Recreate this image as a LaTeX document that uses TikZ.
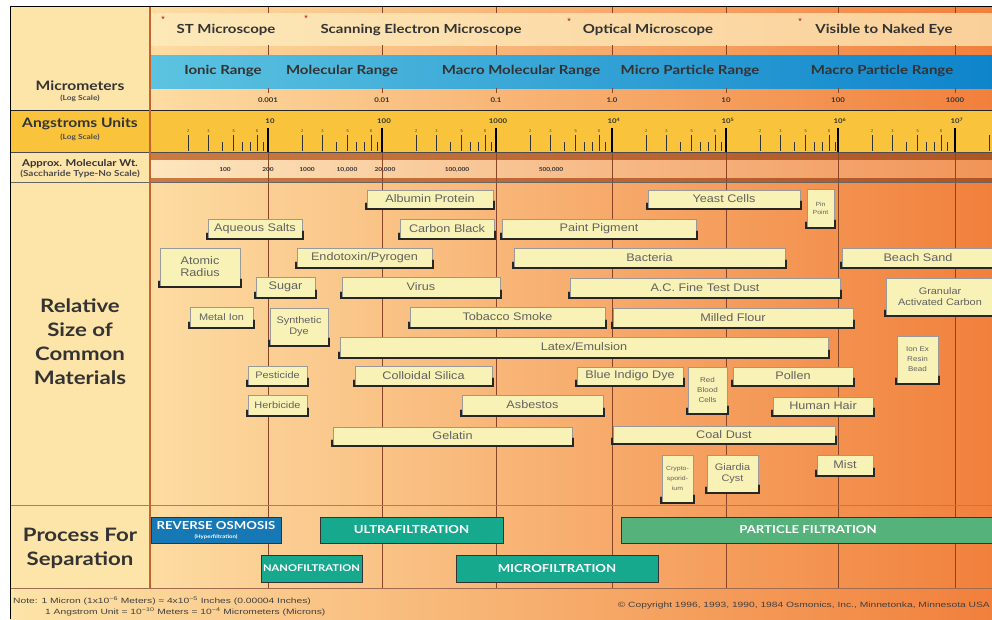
\documentclass[tikz,border=0pt]{standalone}
\usepackage{fontspec}
\setmainfont{Liberation Sans}
\newfontfamily\headfont[FakeStretch=1.2]{Lato}
\newfontfamily\boxfont[FakeStretch=1.15]{Liberation Sans}
\newfontfamily\notefont[FakeStretch=1.35]{Liberation Sans}

\definecolor{colcream}{HTML}{FDE4A8}
\definecolor{colleft}{HTML}{FDDCA2}
\definecolor{colright}{HTML}{F1803C}
\definecolor{colrowA}{HTML}{FDE8B8}
\definecolor{colrowB}{HTML}{FAD09A}
\definecolor{colgold}{HTML}{F9C43C}
\definecolor{colblueA}{HTML}{5CC3E0}
\definecolor{colblueB}{HTML}{0E84CB}
\definecolor{colbrownA}{HTML}{CB7A42}
\definecolor{colbrownB}{HTML}{AE5526}
\definecolor{colmwA}{HTML}{FDE6BE}
\definecolor{colmwB}{HTML}{F19458}
\definecolor{colgrid}{HTML}{8A4624}
\definecolor{colsep}{HTML}{C2642E}
\definecolor{colbox}{HTML}{F9F2B6}
\definecolor{colro}{HTML}{1778B6}
\definecolor{colteal}{HTML}{17A98D}
\definecolor{colgreen}{HTML}{55B27A}

\begin{document}
\begin{tikzpicture}[%
    x=1pt, y=-1pt,
    sz/.style 2 args={minimum width=#1pt, minimum height=#2pt},
    mat/.style={draw=black!40, fill=colbox, inner sep=0pt, align=center,
      font=\boxfont\fontsize{11}{12}\selectfont, text=black!62},
    smallmat/.style={mat, font=\boxfont\fontsize{9.5}{10.5}\selectfont},
    tinymat/.style={mat, font=\boxfont\fontsize{7}{10}\selectfont},
    boxshadow/.style={black!85, line width=1.6pt, line cap=round},
    proc/.style={draw=black!80, line width=1pt, inner sep=0pt, align=center,
      text=white, font=\headfont\bfseries\fontsize{11}{11}\selectfont},
    hdr/.style={font=\headfont\bfseries\fontsize{12.5}{13}\selectfont, text=black!80},
    side/.style={font=\headfont\bfseries\fontsize{18.5}{24}\selectfont,
      text=black!80, align=center},
    sidesmall/.style={font=\headfont\bfseries\fontsize{13}{14}\selectfont, text=black!80},
    logsc/.style={font=\headfont\bfseries\fontsize{7}{8}\selectfont, text=black!70},
    num/.style={font=\headfont\bfseries\fontsize{6.5}{7}\selectfont, text=black!80},
    ticknum/.style={font=\fontsize{4}{4}\selectfont, text=black!75, inner sep=0pt},
    grid/.style={colgrid, line width=0.6pt},
    minortick/.style={black!80, line width=0.5pt},
    note/.style={font=\notefont\fontsize{7.6}{8}\selectfont, text=black!75, inner sep=0pt},
    star/.style={text=red!80!black, font=\fontsize{9}{9}\selectfont, inner sep=0pt}
  ]
    \useasboundingbox (0,0) rectangle (992,619);

    % bands
    \shade[left color=colleft, right color=colright] (150,6) rectangle (992,588);
    \shade[left color=colrowA, right color=colrowB] (150,13) rectangle (992,45);
    \shade[left color=colblueA, right color=colblueB] (150,55) rectangle (992,88);
    \fill[colgold] (10,110) rectangle (992,152);
    \shade[left color=colbrownA, right color=colbrownB] (150,152) rectangle (992,160);
    \shade[left color=colmwA, right color=colmwB] (150,160) rectangle (992,178);
    \shade[left color=colbrownA, right color=colbrownB] (150,178) rectangle (992,182);
    \shade[left color=colcream, right color=colright] (10,588) rectangle (992,619);
    \fill[colcream] (10,6) rectangle (150,110);
    \fill[colcream] (10,152) rectangle (150,588);

    \foreach \gx in {268,382,496,612,726,838,955}{
      \draw[grid] (\gx,152) -- (\gx,588);
      \draw[grid] (\gx,6) -- (\gx,13);
      \draw[grid] (\gx,45) -- (\gx,55);
      \draw[grid] (\gx,88) -- (\gx,93);
    }

    \begin{scope}
      \clip (150,110) rectangle (992,152);
      \foreach \dx in {154,268,382,496,612,726,838}{
        \foreach \n in {4,6,7,9}{
          \pgfmathsetmacro\tx{\dx+114*log10(\n)}
          \draw[minortick] (\tx,142) -- (\tx,151);
        }
        \foreach \n in {2,3,5,8}{
          \pgfmathsetmacro\tx{\dx+114*log10(\n)}
          \draw[minortick] (\tx,135) -- (\tx,151);
          \node[ticknum] (tn\dx-\n) at (\tx,131) {\n};
        }
      }
      \draw[minortick] (989,135) -- (989,151);
      \foreach \gx in {268,382,496,612,726,838,955}
        \draw[black, line width=1.2pt] (\gx,128) -- (\gx,152);
    \end{scope}

    \draw[black!85, line width=1pt] (10,110) -- (992,110);
    \draw[black!70, line width=0.8pt] (10,152) -- (992,152);
    \draw[black!60, line width=0.6pt] (10,182) -- (992,182);
    \draw[colgrid!70, line width=0.6pt] (10,505) -- (992,505);
    \draw[colgrid!80, line width=0.8pt] (10,588) -- (992,588);
    \draw[colsep, line width=2.5pt] (150,6) -- (150,588);
    \draw[black, line width=1pt] (10,619) -- (10,6) -- (992,6);

    % top rows
    \node[star] (s1) at (163,19) {*};
    \node[star] (s2) at (306,18) {*};
    \node[star] (s3) at (569,21) {*};
    \node[star] (s4) at (800,21) {*};
    \node[hdr] (stm) at (226,30) {ST Microscope};
    \node[hdr] (sem) at (421,30) {Scanning Electron Microscope};
    \node[hdr] (opt) at (648,30) {Optical Microscope};
    \node[hdr] (eye) at (884,30) {Visible to Naked Eye};
    \node[hdr] (ionic) at (223,71) {Ionic Range};
    \node[hdr] (molec) at (342,71) {Molecular Range};
    \node[hdr] (macmol) at (521,71) {Macro Molecular Range};
    \node[hdr] (micpar) at (690,71) {Micro Particle Range};
    \node[hdr] (macpar) at (882,71) {Macro Particle Range};

    \foreach \gx/\lab in {268/0.001,382/0.01,496/0.1,612/1.0,726/10,838/100,955/1000}
      \node[num] (mu\gx) at (\gx,100) {\lab};
    \foreach \gx/\lab in {268/10,382/100,496/1000,612/10\textsuperscript{4},
        726/10\textsuperscript{5},838/10\textsuperscript{6},955/10\textsuperscript{7}}
      \node[num] (an\gx) at (\gx+2,121) {\lab};
    \foreach \gx/\lab in {225/100,268/200,307/1000,347/10{,}000,385/20{,}000,
        457/100{,}000,551/500{,}000}
      \node[num, font=\headfont\bfseries\fontsize{5.5}{6}\selectfont] (mw\gx) at (\gx,170) {\lab};

    % left column
    \node[sidesmall] (micro) at (80,86) {Micrometers};
    \node[logsc] (microlog) at (80,98) {(Log Scale)};
    \node[sidesmall] (angs) at (80,124) {Angstroms Units};
    \node[logsc] (angslog) at (80,137) {(Log Scale)};
    \node[sidesmall, font=\headfont\bfseries\fontsize{9.5}{10}\selectfont] (mwt) at (80,164) {Approx. Molecular Wt.};
    \node[logsc, font=\headfont\bfseries\fontsize{8.3}{9}\selectfont] (mwtsc) at (80,174) {(Saccharide Type-No Scale)};
    \node[side] (relsize) at (80,342) {Relative\\Size of\\Common\\Materials};
    \node[side] (process) at (80,548) {Process For\\Separation};

    % materials
    \node[mat, sz={126}{18}] (albumin) at (430,199) {Albumin Protein};
    \node[mat, sz={152}{18}] (yeast) at (724,199) {Yeast Cells};
    \node[tinymat, font=\boxfont\fontsize{6}{8}\selectfont, sz={27}{38}] (pinpoint) at (820.5,208) {Pin\\Point};
    \node[mat, sz={94}{19}] (aqueous) at (255,228.5) {Aqueous Salts};
    \node[mat, sz={94}{19}] (carbon) at (447,228.5) {Carbon Black};
    \node[mat, sz={194}{19}] (paint) at (599,228.5) {Paint Pigment};
    \node[mat, sz={80}{38}] (atomic) at (200,267) {Atomic\\Radius};
    \node[mat, sz={135}{19}] (endotoxin) at (364.5,257.5) {Endotoxin/Pyrogen};
    \node[mat, sz={271}{19}] (bacteria) at (649.5,257.5) {Bacteria};
    \node[mat, sz={152}{19}] (beach) at (918,257.5) {Beach Sand};
    \node[mat, sz={59}{20}] (sugar) at (285.5,287) {Sugar};
    \node[mat, sz={158}{20}] (virus) at (421,287) {Virus};
    \node[mat, sz={270}{19}] (testdust) at (705,287.5) {A.C. Fine Test Dust};
    \node[smallmat, sz={108}{37}] (granular) at (940,296.5) {Granular\\Activated Carbon};
    \node[smallmat, sz={63}{20}] (metalion) at (221.5,317) {Metal Ion};
    \node[smallmat, sz={58}{37}] (dye) at (299,326.5) {Synthetic\\Dye};
    \node[mat, sz={195}{20}] (tobacco) at (507.5,317) {Tobacco Smoke};
    \node[mat, sz={240}{19}] (flour) at (733,317.5) {Milled Flour};
    \node[mat, sz={488}{20}] (latex) at (584,347) {Latex/Emulsion};
    \node[tinymat, sz={41}{47}] (ionex) at (917.5,359.5) {Ion Ex\\Resin\\Bead};
    \node[smallmat, sz={59}{19}] (pesticide) at (277.5,375.5) {Pesticide};
    \node[mat, sz={137}{19}] (silica) at (423.5,375.5) {Colloidal Silica};
    \node[mat, sz={106}{18}] (indigo) at (630,376) {Blue Indigo Dye};
    \node[tinymat, sz={39}{46}] (redblood) at (707.5,390) {Red\\Blood\\Cells};
    \node[mat, sz={120}{18}] (pollen) at (793,376) {Pollen};
    \node[smallmat, sz={59}{20}] (herbicide) at (277.5,405) {Herbicide};
    \node[mat, sz={141}{20}] (asbestos) at (532.5,405) {Asbestos};
    \node[mat, sz={100}{18}] (hair) at (823,406) {Human Hair};
    \node[mat, sz={239}{18}] (gelatin) at (452.5,436) {Gelatin};
    \node[mat, sz={222}{17}] (coal) at (724,434.5) {Coal Dust};
    \node[tinymat, font=\boxfont\fontsize{6}{10}\selectfont, sz={31}{47}] (crypto) at (677.5,478.5) {Crypto-\\sporid-\\ium};
    \node[smallmat, sz={51}{37}] (giardia) at (732.5,473.5) {Giardia\\Cyst};
    \node[mat, sz={56}{20}] (mist) at (845,465) {Mist};

    \foreach \b in {albumin,yeast,pinpoint,aqueous,carbon,paint,atomic,endotoxin,
        bacteria,beach,sugar,virus,testdust,granular,metalion,dye,tobacco,flour,
        latex,ionex,pesticide,silica,indigo,redblood,pollen,herbicide,asbestos,
        hair,gelatin,coal,crypto,giardia,mist}
      \draw[boxshadow] ([xshift=-0.6pt, yshift=5pt]\b.south west) --
        ([xshift=-0.6pt, yshift=-0.6pt]\b.south west) --
        ([xshift=0.6pt, yshift=-0.6pt]\b.south east) --
        ([xshift=0.6pt, yshift=7pt]\b.south east);

    % processes
    \node[proc, fill=colro, sz={130}{26}] (ro) at (216,530)
      {REVERSE OSMOSIS\\[-2pt]{\fontsize{5}{5}\selectfont (Hyperfiltration)}};
    \node[proc, fill=colteal, sz={183}{26}] (uf) at (411.5,530) {ULTRAFILTRATION};
    \node[proc, fill=colgreen, sz={374}{26}] (pf) at (808,530) {PARTICLE FILTRATION};
    \node[proc, fill=colteal, sz={101}{27}, font=\headfont\bfseries\fontsize{9.3}{10}\selectfont] (nf) at (311.5,568.5) {NANOFILTRATION};
    \node[proc, fill=colteal, sz={202}{27}] (mf) at (557,568.5) {MICROFILTRATION};

    % notes
    \node[note, anchor=west] (note1) at (13,601)
      {Note: 1 Micron (1x10\textsuperscript{−6} Meters) ≈ 4x10\textsuperscript{−5} Inches (0.00004 Inches)};
    \node[note, anchor=west] (note2) at (45,612)
      {1 Angstrom Unit = 10\textsuperscript{−10} Meters = 10\textsuperscript{−4} Micrometers (Microns)};
    \node[note, anchor=east] (copy) at (990,606)
      {© Copyright 1996, 1993, 1990, 1984 Osmonics, Inc., Minnetonka, Minnesota USA};
  \end{tikzpicture}
\end{document}
